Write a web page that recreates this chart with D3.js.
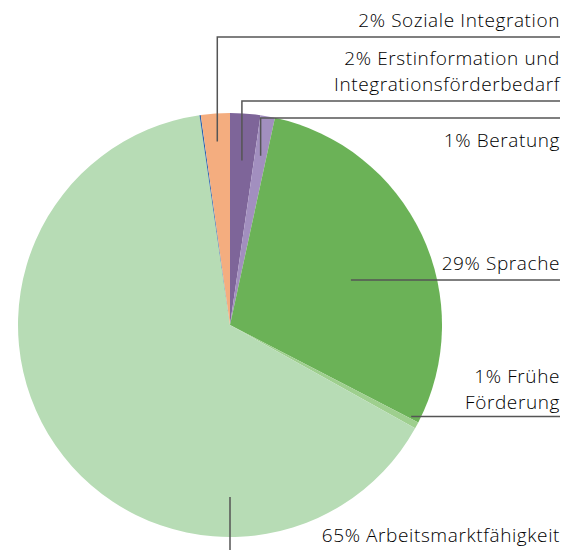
<!DOCTYPE html>
<html>
<head>
<meta charset="utf-8">
<script src="https://cdn.jsdelivr.net/npm/d3@7"></script>
<style>
  body { margin: 0; background: #fff; }
  text { font-family: "Open Sans", "Noto Sans", sans-serif; font-weight: 300; fill: #000; }
</style>
</head>
<body>
<svg id="chart"></svg>
<script>
// Slices, clockwise from 12 o'clock
const names = ["Erstinformation", "Beratung", "Sprache", "Frühe Förderung", "Arbeitsmarktfähigkeit", "Sonstiges", "Soziale Integration"];
const shares = [2.3, 1.1, 29.2, 0.5, 64.6, 0.1, 2.2];
const colors = ["#7e6599", "#a28fbf", "#6bb257", "#9ecf8e", "#b7dcb5", "#2a62ae", "#f4ad7f"];

// Label text lines per slice (null = no label)
const labelLines = [
  ["2% Erstinformation und", "Integrationsförderbedarf"],
  ["1% Beratung"],
  ["29% Sprache"],
  ["1% Frühe", "Förderung"],
  ["65% Arbeitsmarktfähigkeit"],
  null,
  ["2% Soziale Integration"]
];

const width = 569, height = 550;
const cx = 230, cy = 325, radius = 212;
const rightX = 560;

const svg = d3.select("#chart")
  .attr("width", width)
  .attr("height", height);

const g = svg.append("g").attr("transform", `translate(${cx},${cy})`);

const pie = d3.pie().sort(null).value(d => d);
const arcs = pie(shares);
const arc = d3.arc().innerRadius(0).outerRadius(radius);

g.selectAll("path.slice")
  .data(arcs)
  .enter().append("path")
  .attr("class", "slice")
  .attr("d", arc)
  .attr("fill", (d, i) => colors[i]);

// leader layout: anchor radius, optional angle override (deg), elbow y, first baseline
const leaders = [
  { i: 6, type: "vertical", r: 184, lineY: 37, textY: 27 },
  { i: 0, type: "vertical", r: 165, lineY: 101, textY: 65 },
  { i: 1, type: "vertical", r: 172, lineY: 118, textY: 147 },
  { i: 2, type: "horizontal", r: 129, deg: 69.6, textY: 270 },
  { i: 3, type: "horizontal", r: 203, deg: 116.8, textY: 383 },
  { i: 4, type: "down", r: 172, deg: 180, textY: 542 }
];
const lineGap = 26;

const layer = svg.append("g");

leaders.forEach(L => {
  const a = arcs[L.i];
  const ang = L.deg != null ? L.deg * Math.PI / 180 : (a.startAngle + a.endAngle) / 2;
  const p = d3.pointRadial(ang, L.r);
  const px = cx + p[0], py = cy + p[1];
  let dpath;
  if (L.type === "vertical") dpath = `M${px},${py}V${L.lineY}H${rightX}`;
  else if (L.type === "horizontal") dpath = `M${px},${py}H${rightX}`;
  else dpath = `M${px},${py}V${height}`;
  layer.append("path")
    .attr("d", dpath)
    .attr("fill", "none")
    .attr("stroke", "#555")
    .attr("stroke-width", 1.5);

  const txt = layer.append("text")
    .attr("text-anchor", "end")
    .style("font-size", "19px")
    .style("letter-spacing", "0.6px");
  labelLines[L.i].forEach((t, k) => {
    txt.append("tspan")
      .attr("x", rightX)
      .attr("y", L.textY + k * lineGap)
      .text(t);
  });
});
</script>
</body>
</html>
